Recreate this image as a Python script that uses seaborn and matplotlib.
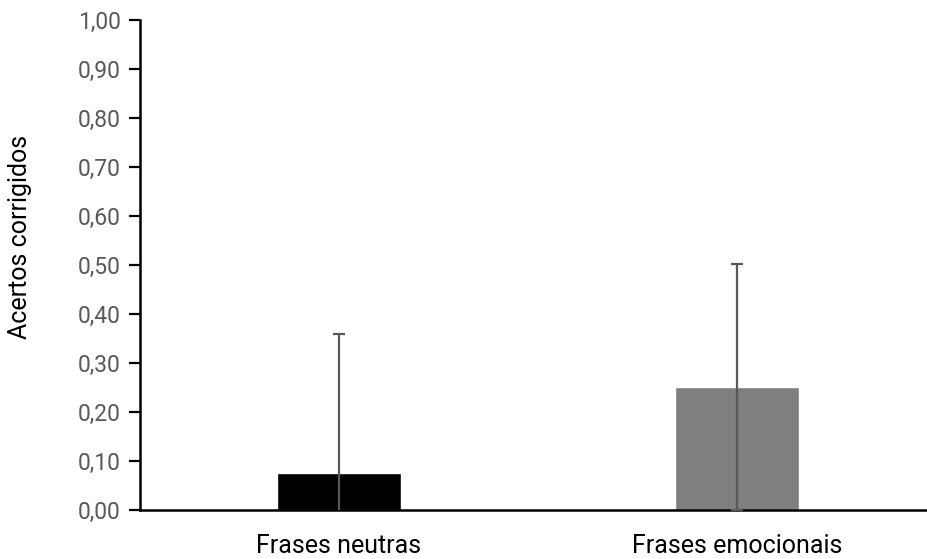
import matplotlib
matplotlib.use("Agg")
import matplotlib.pyplot as plt
import seaborn as sns
import pandas as pd
from matplotlib.ticker import FuncFormatter, MultipleLocator

categories = ["Frases neutras", "Frases emocionais"]
means = [0.075, 0.251]
sds = [0.284, 0.251]
colors = ["#000000", "#7f7f7f"]
ylabel = "Acertos corrigidos"

sns.set_style("white")
plt.rcParams['font.family'] = ['Roboto', 'DejaVu Sans']

df = pd.DataFrame({"cat": categories, "val": means})

W, H = 928, 559
fig = plt.figure(figsize=(W / 100, H / 100), dpi=100)
ax = fig.add_axes([140 / W, 1 - 510 / H, 796 / W, 490 / H])

sns.barplot(data=df, x="cat", y="val", hue="cat", palette=colors, width=0.314,
            legend=False, ax=ax, saturation=1)
ax.errorbar(range(len(categories)), means, yerr=sds, fmt="none",
            ecolor="#595959", elinewidth=1.6, capsize=4, capthick=1.6, zorder=3)

ax.set_xlim(-0.5, 1.5)
ax.set_ylim(0, 1.0)
ax.yaxis.set_major_locator(MultipleLocator(0.1))
ax.yaxis.set_major_formatter(FuncFormatter(lambda v, p: f"{v:.2f}".replace(".", ",")))
ax.set_xticks([-0.5, 0.5, 1.5], minor=False)
ax.set_xticklabels(["", "", ""])
ax.set_xticks([0, 1], minor=True)
ax.set_xticklabels(categories, minor=True)
ax.tick_params(axis="x", which="minor", length=0, pad=17, labelsize=18, labelcolor="black")
ax.tick_params(axis="x", which="major", length=10, width=1.6, direction="out", color="black")
ax.tick_params(axis="y", length=8, width=1.6, direction="out", color="black",
               labelsize=16.5, labelcolor="#595959", pad=6, left=True)
ax.set_xlabel("")
ax.set_ylabel("")
for s in ["top", "right"]:
    ax.spines[s].set_visible(False)
for s in ["left", "bottom"]:
    ax.spines[s].set_color("black")
    ax.spines[s].set_linewidth(1.8)

fig.text(20 / W, 1 - 237 / H, ylabel, rotation=90, ha="center", va="center",
         fontsize=18, color="black")

fig.savefig("out.png", dpi=100)
